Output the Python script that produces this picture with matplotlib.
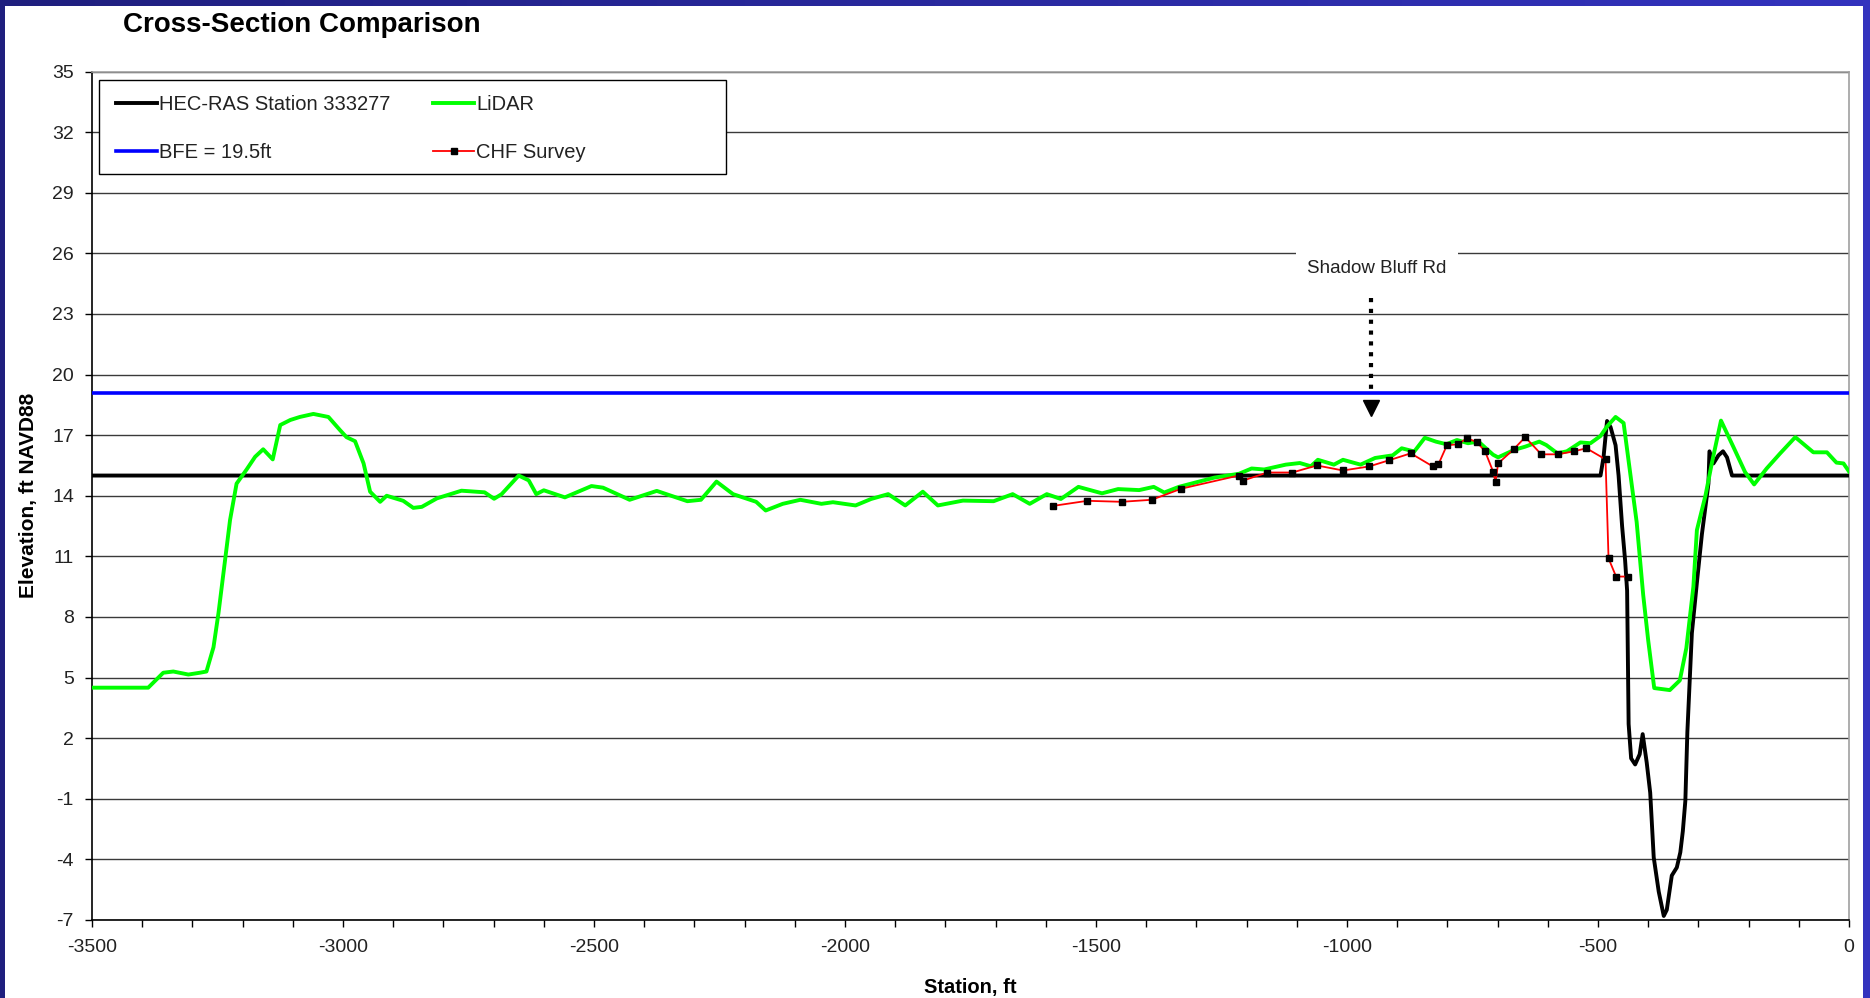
# Cross-section comparison: HEC-RAS vs LiDAR vs CHF survey
import numpy as np
import matplotlib
matplotlib.use("Agg")
import matplotlib.pyplot as plt
from matplotlib.patches import Rectangle
from matplotlib.colors import LinearSegmentedColormap
from matplotlib.ticker import MultipleLocator

plt.rcParams["font.family"] = ["Liberation Sans", "DejaVu Sans"]
plt.rcParams["axes.unicode_minus"] = False

# HEC-RAS Station 333277 (station ft, elevation ft)
hec_sta = [-3500, -495, -489, -482, -475, -465, -459, -452, -446, -442, -439,
           -434, -426, -417, -411, -403, -396, -389, -379, -369, -363, -353,
           -343, -336, -331, -326, -322, -313, -303, -293, -280, -278, -270,
           -260, -251, -243, -233, 0]
hec_elev = [15.0, 15.0, 15.9, 17.7, 17.4, 16.5, 15.0, 12.5, 10.8, 9.3, 2.7,
            1.0, 0.7, 1.2, 2.2, 0.8, -0.7, -3.9, -5.6, -6.8, -6.5, -4.8,
            -4.4, -3.65, -2.6, -1.1, 2.3, 7.2, 9.7, 12.1, 14.6, 16.2, 15.6,
            16.0, 16.2, 15.9, 15.0, 15.0]

# LiDAR profile
lidar_sta = [-3500, -3388, -3358, -3338, -3308, -3285, -3272, -3258, -3248,
             -3238, -3225, -3212, -3192, -3175, -3159, -3140, -3125, -3105,
             -3086, -3059, -3029, -3006, -2993, -2976, -2959, -2946, -2926,
             -2913, -2880, -2860, -2843, -2813, -2764, -2718, -2699, -2684,
             -2650, -2630, -2615, -2600, -2558, -2505, -2482, -2429, -2375,
             -2314, -2287, -2256, -2223, -2177, -2158, -2124, -2089, -2047,
             -2024, -1979, -1948, -1914, -1880, -1845, -1815, -1765, -1704,
             -1666, -1632, -1598, -1570, -1535, -1488, -1456, -1414, -1385,
             -1364, -1335, -1264, -1215, -1190, -1165, -1122, -1094, -1072,
             -1058, -1026, -1008, -973, -944, -909, -891, -866, -845, -823,
             -802, -781, -759, -738, -709, -699, -667, -645, -617, -603, -581,
             -562, -535, -515, -495, -482, -465, -449, -436, -423, -410, -400,
             -388, -357, -337, -324, -310, -303, -286, -273, -255, -230, -207,
             -189, -164, -137, -107, -71, -44, -25, -11, 0]
lidar_elev = [4.5, 4.5, 5.24, 5.3, 5.15, 5.24, 5.3, 6.5, 8.2,
              10.2, 12.8, 14.6, 15.3, 15.93, 16.3, 15.8, 17.5, 17.75,
              17.9, 18.05, 17.9, 17.25, 16.9, 16.7, 15.6, 14.2, 13.7,
              14.0, 13.75, 13.4, 13.45, 13.87, 14.25, 14.17, 13.85, 14.08,
              15.0, 14.76, 14.08, 14.27, 13.92, 14.48, 14.4, 13.8, 14.24,
              13.73, 13.8, 14.7, 14.08, 13.7, 13.27, 13.6, 13.8, 13.6,
              13.68, 13.52, 13.84, 14.08, 13.52, 14.2, 13.52, 13.76, 13.73,
              14.08, 13.6, 14.08, 13.84, 14.44, 14.12, 14.33, 14.28, 14.44,
              14.16, 14.44, 14.9, 15.09, 15.35, 15.3, 15.54, 15.62, 15.46,
              15.78, 15.54, 15.78, 15.54, 15.87, 16.0, 16.35, 16.19, 16.87, 16.68,
              16.55, 16.76, 16.6, 16.68, 16.03, 15.9, 16.27, 16.43, 16.68, 16.51, 16.1,
              16.2, 16.64, 16.6, 16.96, 17.43, 17.9, 17.6, 15.17, 12.7, 9.1, 6.84,
              4.48, 4.38, 4.86, 6.46, 9.5, 12.3, 14.0, 15.64, 17.72, 16.4, 15.17,
              14.56, 15.35, 16.1, 16.9, 16.15, 16.15, 15.64, 15.6, 15.2]

# CHF survey points
chf_sta = [-1585, -1517, -1449, -1389, -1330, -1216, -1207, -1159, -1109,
           -1060, -1008, -956, -917, -873, -829, -818, -801, -779, -761, -741,
           -725, -709, -704, -699, -668, -645, -613, -580, -548, -523, -485,
           -479, -464, -441]
chf_elev = [13.5, 13.75, 13.7, 13.8, 14.35, 15.0, 14.75, 15.15, 15.15,
            15.5, 15.25, 15.45, 15.75, 16.1, 15.45, 15.55, 16.5, 16.55, 16.85,
            16.65, 16.2, 15.2, 14.7, 15.6, 16.3, 16.9, 16.05, 16.05, 16.2,
            16.35, 15.8, 10.9, 10.0, 10.0]

# base flood elevation line (as drawn)
bfe = 19.1

# road annotation
road_label = "Shadow Bluff Rd"
road_sta = -953
label_elev = 25.25
arrow_top = 23.8
arrow_bottom = 19.0
arrow_tip = 18.35

fig = plt.figure(figsize=(18.7, 9.98), dpi=100)

# blue slide frame
bg = fig.add_axes([0, 0, 1, 1], zorder=-10)
frame_cmap = LinearSegmentedColormap.from_list("frame", ["#1f1f7e", "#3333be"])
bg.imshow(np.linspace(0, 1, 256).reshape(1, -1), aspect="auto",
          cmap=frame_cmap, extent=[0, 1, 0, 1])
bg.axis("off")
fig.add_artist(Rectangle((5 / 1870, 0), 1858 / 1870, 992 / 998,
                         transform=fig.transFigure, facecolor="white",
                         edgecolor="none", zorder=-5))

ax = fig.add_axes([92 / 1870, 78 / 998, 1757 / 1870, 848.5 / 998])

h_hec, = ax.plot(hec_sta, hec_elev, color="black", lw=2.8, zorder=3)
h_bfe = ax.axhline(bfe, color="#0000ff", lw=2.6, zorder=3)
h_lidar, = ax.plot(lidar_sta, lidar_elev, color="#00ff00", lw=2.8, zorder=4)
h_chf, = ax.plot(chf_sta, chf_elev, color="red", lw=1.3, marker="s",
                 ms=5, mfc="black", mec="black", zorder=5)

# road annotation: dotted arrow and label
ax.plot([road_sta, road_sta], [arrow_top, arrow_bottom], color="black", lw=3,
        linestyle=(0, (1, 1.6)), dash_capstyle="butt", zorder=6)
ax.plot([road_sta], [arrow_tip], marker="v", ms=11, color="black", zorder=6)
ax.text(road_sta + 13, label_elev, road_label, ha="center", va="center",
        fontsize=13.5, color="#222222", zorder=6,
        bbox=dict(facecolor="white", edgecolor="none", pad=8))

ax.set_xlim(-3500, 0)
ax.set_ylim(-7, 35)
ax.set_yticks(np.arange(-7, 36, 3))
ax.xaxis.set_major_locator(MultipleLocator(500))
ax.xaxis.set_minor_locator(MultipleLocator(100))

ax.grid(axis="y", color="#3a3a3a", lw=1.0)
ax.set_axisbelow(True)

ax.tick_params(axis="both", which="both", direction="out", length=5,
               width=1, labelsize=14, labelcolor="#222222")
ax.tick_params(axis="x", pad=8.5)
ax.tick_params(axis="y", pad=8)

for side in ["left", "bottom"]:
    ax.spines[side].set_color("black")
    ax.spines[side].set_linewidth(1.2)
for side in ["top", "right"]:
    ax.spines[side].set_color("#a0a0a0")
    ax.spines[side].set_linewidth(1.2)

# legend box drawn by hand so it can be wider than the entries
ax.add_patch(Rectangle((0.004, 0.8792), 0.3568, 0.1108, transform=ax.transAxes,
                       facecolor="white", edgecolor="black", lw=1.0, zorder=7))
leg = ax.legend([h_hec, h_bfe, h_lidar, h_chf],
                ["HEC-RAS Station 333277", "BFE = 19.5ft", "LiDAR", "CHF Survey"],
                ncol=2, loc="upper left", bbox_to_anchor=(0.004, 0.993),
                frameon=False, fontsize=14.5, handlelength=2.05,
                handletextpad=0.1, columnspacing=2.1, labelspacing=1.45,
                borderpad=0.85, borderaxespad=0)
leg.set_zorder(8)
for t in leg.get_texts():
    t.set_color("#222222")

ax.set_ylabel("Elevation, ft NAVD88", fontsize=15, fontweight="bold")
ax.yaxis.set_label_coords(-0.031, 0.5)
ax.set_xlabel("Station, ft", fontsize=14.5, fontweight="bold")
ax.xaxis.set_label_coords(0.5, -0.068)

fig.text(123 / 1870, 1 - 25.5 / 998, "Cross-Section Comparison", fontsize=20,
         fontweight="bold", ha="left", va="center")

fig.savefig("out.png", dpi=100)
